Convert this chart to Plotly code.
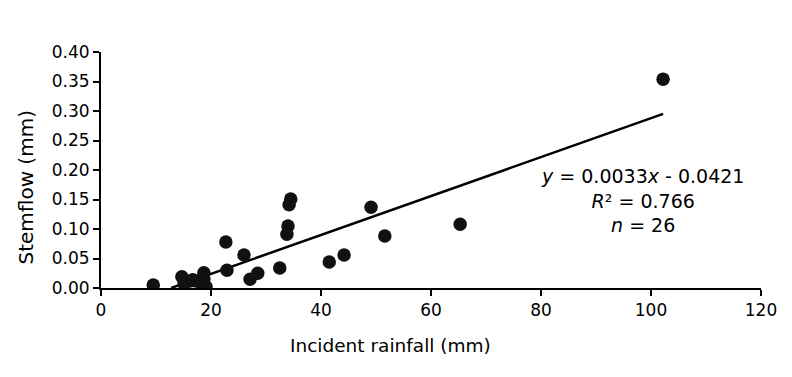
import plotly.graph_objects as go

rainfall = [9.5, 14.7, 15.1, 16.2, 16.7, 17.3, 18.0, 18.7, 18.7, 19.1, 22.7, 22.9, 26.0, 27.1,
            28.5, 32.5, 33.8, 34.0, 34.2, 34.5, 41.5, 44.2, 49.1, 51.6, 65.3, 102.2]
stemflow = [0.005, 0.019, 0.007, 0.012, 0.014, 0.012, 0.010, 0.026, 0.015, 0.002, 0.078, 0.030,
            0.056, 0.015, 0.025, 0.034, 0.091, 0.105, 0.141, 0.151, 0.044, 0.056, 0.137, 0.088,
            0.108, 0.354]

slope = 0.0033
intercept = -0.0421
x_line = [-intercept / slope, max(rainfall)]
y_line = [slope * v + intercept for v in x_line]

FONT = "DejaVu Sans"

fig = go.Figure()
fig.add_trace(go.Scatter(x=x_line, y=y_line, mode="lines",
                         line=dict(color="black", width=2.5), showlegend=False, hoverinfo="skip"))
fig.add_trace(go.Scatter(x=rainfall, y=stemflow, mode="markers",
                         marker=dict(color="#111111", size=13.5), showlegend=False))

fig.add_annotation(
    x=98.4, y=0.212, xref="x", yref="y", xanchor="center", yanchor="top",
    text="<i>y</i> = 0.0033<i>x</i> - 0.0421<br><i>R</i>² = 0.766<br><i>n</i> = 26",
    showarrow=False, align="center",
    font=dict(family=FONT, size=19, color="black"))

# axis titles (placed off-centre as in the reference)
fig.add_annotation(
    x=(390 - 101) / 660, y=-(345 - 288) / 236, xref="paper", yref="paper",
    xanchor="center", yanchor="middle", text="Incident rainfall (mm)", showarrow=False,
    font=dict(family=FONT, size=18.5, color="black"))
fig.add_annotation(
    x=(25 - 101) / 660, y=(288 - 187.5) / 236, xref="paper", yref="paper",
    xanchor="center", yanchor="middle", text="Stemflow (mm)", showarrow=False, textangle=-90,
    font=dict(family=FONT, size=20, color="black"))

fig.update_layout(
    width=784, height=369,
    margin=dict(l=93, r=31, t=44, b=89),
    paper_bgcolor="white", plot_bgcolor="white",
    font=dict(family=FONT, size=17, color="black"),
    xaxis=dict(range=[0, 120], dtick=20, tick0=0, showgrid=False, zeroline=False,
               showline=True, linecolor="black", linewidth=2, ticks="outside",
               ticklen=6, tickwidth=2, tickcolor="black", automargin=False),
    yaxis=dict(range=[0, 0.40], dtick=0.05, tick0=0, tickformat=".2f", showgrid=False,
               zeroline=False, showline=True, linecolor="black", linewidth=2,
               ticks="outside", ticklen=6, tickwidth=2, tickcolor="black", automargin=False),
)

fig.write_html("out.html")
